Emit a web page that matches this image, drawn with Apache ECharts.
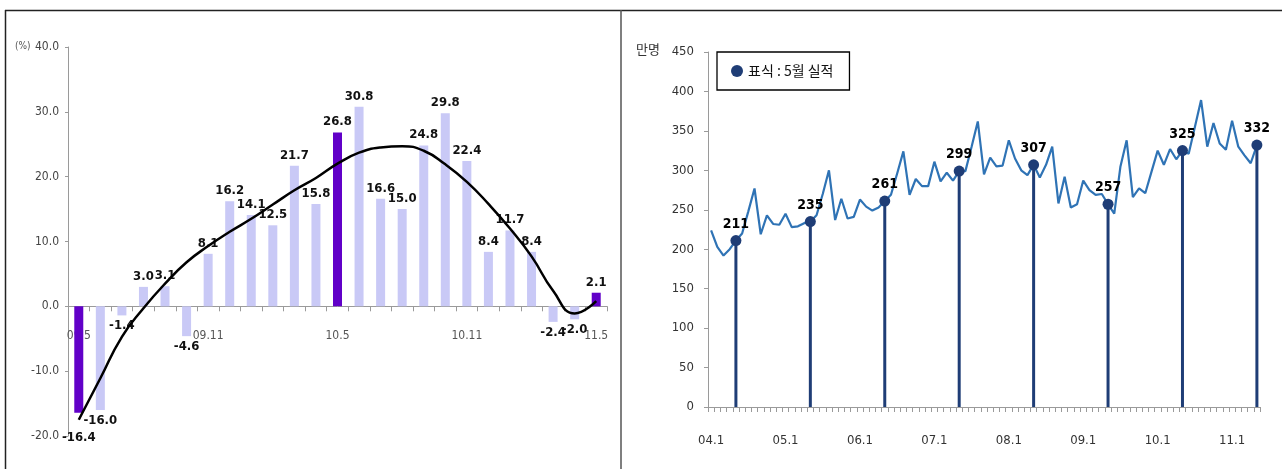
<!DOCTYPE html>
<html>
<head>
<meta charset="utf-8">
<script src="https://cdn.jsdelivr.net/npm/echarts@6/dist/echarts.min.js"></script>
<style>
html,body{margin:0;padding:0;background:#fff;}
#c{width:1282px;height:469px;}
</style>
</head>
<body>
<div id="c"></div>
<script>
// ---- Left chart: year-on-year change (%) ----
const leftCategories = ['09.5','09.6','09.7','09.8','09.9','09.10','09.11','09.12','10.1','10.2','10.3','10.4','10.5','10.6','10.7','10.8','10.9','10.10','10.11','10.12','11.1','11.2','11.3','11.4','11.5'];
const changeValues = [-16.4,-16.0,-1.4,3.0,3.1,-4.6,8.1,16.2,14.1,12.5,21.7,15.8,26.8,30.8,16.6,15.0,24.8,29.8,22.4,8.4,11.7,8.4,-2.4,-2.0,2.1];
const trendValues = [-17.5,-11.1,-4.7,-0.3,3.5,6.8,9.3,11.5,13.5,15.7,17.9,19.8,22.0,23.7,24.5,24.7,24.0,21.9,19.2,15.8,12.0,7.7,2.4,-1.1,0.8];
const highlightCats = ['09.5','10.5','11.5'];

// ---- Right chart: monthly totals (만명) ----
const years = ['04','05','06','07','08','09','10','11'];
const months = ['1','2','3','4','5','6','7','8','9','10','11','12'];
const monthlyValues = [
  224,203,192,200,211,220,248,277,219,243,232,231,
  245,228,229,233,235,243,270,300,237,264,239,241,
  263,254,249,253,261,269,296,324,269,289,280,280,
  311,286,297,287,299,299,330,362,295,316,305,306,
  338,315,300,294,307,291,307,330,258,292,253,257,
  287,275,269,270,257,245,305,338,266,277,271,298,
  325,307,327,314,325,321,355,389,330,360,334,326,
  363,330,319,309,332
];
const markMonth = '5';
const legendName = '표식 : 5월 실적';

const rightCategories = [];
years.forEach(y => months.forEach(m => rightCategories.push(y + '.' + m)));
rightCategories.length = monthlyValues.length;
const mayData = rightCategories.map((c, i) => c.split('.')[1] === markMonth ? monthlyValues[i] : null);

const NUM = "'DejaVu Sans Condensed','Liberation Sans Narrow',sans-serif";
const KR = "'Noto Sans CJK KR',sans-serif";

const chart = echarts.init(document.getElementById('c'));
chart.setOption({
  animation: false,
  backgroundColor: '#fff',
  legend: {
    data: [{name: legendName, icon: 'circle'}],
    left: 717, top: 52,
    itemWidth: 12, itemHeight: 12, itemGap: 5,
    padding: [12, 16, 12, 14],
    borderColor: '#000', borderWidth: 1.3,
    textStyle: {fontSize: 14, color: '#111', fontFamily: KR}
  },
  grid: [
    {left: 68, top: 47, width: 539, height: 389},
    {left: 708, top: 52, width: 552, height: 355}
  ],
  xAxis: [
    {
      type: 'category', gridIndex: 0, data: leftCategories, boundaryGap: true,
      offset: -129.7,
      axisLine: {onZero: false, lineStyle: {color: '#9a9a9a', width: 1}},
      axisTick: {show: true, interval: 0, length: 5, lineStyle: {color: '#9a9a9a'}},
      axisLabel: {interval: 5, margin: 24, fontSize: 12, color: '#555', fontFamily: NUM}
    },
    {
      type: 'category', gridIndex: 1, data: rightCategories, boundaryGap: true,
      axisLine: {lineStyle: {color: '#9a9a9a', width: 1}},
      axisTick: {show: true, interval: 0, length: 5, lineStyle: {color: '#9a9a9a'}},
      axisLabel: {interval: 11, margin: 27, fontSize: 13, color: '#333', fontFamily: NUM}
    }
  ],
  yAxis: [
    {
      type: 'value', gridIndex: 0, min: -20, max: 40, interval: 10,
      splitLine: {show: false},
      axisLine: {show: true, lineStyle: {color: '#9a9a9a'}},
      axisTick: {show: true, length: 3, lineStyle: {color: '#9a9a9a'}},
      axisLabel: {formatter: v => v.toFixed(1), fontSize: 12, color: '#444', margin: 9, fontFamily: NUM}
    },
    {
      type: 'value', gridIndex: 1, min: 0, max: 450, interval: 50,
      splitLine: {show: false},
      axisLine: {show: true, lineStyle: {color: '#9a9a9a'}},
      axisTick: {show: true, length: 4, lineStyle: {color: '#9a9a9a'}},
      axisLabel: {fontSize: 13, color: '#333', margin: 14, fontFamily: NUM}
    }
  ],
  series: [
    {
      type: 'bar', xAxisIndex: 0, yAxisIndex: 0, barWidth: 9,
      data: changeValues.map((v, i) => ({
        value: v,
        itemStyle: {color: highlightCats.includes(leftCategories[i]) ? '#6100c8' : '#c9c9f6'},
        label: {position: v < 0 ? 'bottom' : 'top', distance: i === 0 ? 18 : 4}
      })),
      label: {show: true, formatter: p => p.value.toFixed(1), fontSize: 13, fontWeight: 'bold', color: '#111', fontFamily: NUM}
    },
    {
      type: 'line', xAxisIndex: 0, yAxisIndex: 0, data: trendValues, smooth: 0.5,
      symbol: 'none', lineStyle: {color: '#000', width: 2.5}, z: 5
    },
    {
      type: 'line', xAxisIndex: 1, yAxisIndex: 1, data: monthlyValues,
      symbol: 'none', lineStyle: {color: '#2f73b5', width: 2.2}, z: 3
    },
    {
      type: 'bar', xAxisIndex: 1, yAxisIndex: 1, data: mayData, barWidth: 3,
      barGap: '-100%', itemStyle: {color: '#1f3d76'}, z: 4
    },
    {
      name: legendName, type: 'scatter', xAxisIndex: 1, yAxisIndex: 1, data: mayData,
      symbol: 'circle', symbolSize: 11, itemStyle: {color: '#1f3d76', opacity: 1}, z: 6,
      label: {show: true, position: 'top', distance: 4, fontSize: 14, fontWeight: 'bold', color: '#000', fontFamily: NUM}
    }
  ],
  graphic: [
    {type: 'line', shape: {x1: 5, y1: 10.5, x2: 1282, y2: 10.5}, style: {stroke: '#222', lineWidth: 1.5}},
    {type: 'line', shape: {x1: 5.5, y1: 10, x2: 5.5, y2: 469}, style: {stroke: '#222', lineWidth: 1.5}},
    {type: 'line', shape: {x1: 621, y1: 10, x2: 621, y2: 469}, style: {stroke: '#555', lineWidth: 1.5}},
    {type: 'text', left: 15, top: 41, style: {text: '(%)', fontSize: 10, fill: '#555', fontFamily: NUM}},
    {type: 'text', left: 636, top: 43, style: {text: '만명', fontSize: 13, fill: '#333', fontFamily: KR}}
  ]
});
</script>
</body>
</html>
